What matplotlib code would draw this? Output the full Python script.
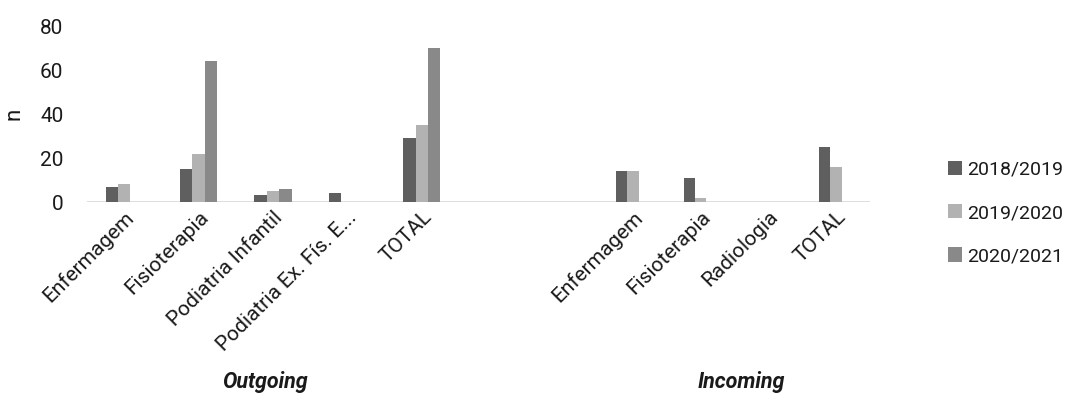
import matplotlib
matplotlib.use("Agg")
import matplotlib.pyplot as plt
import numpy as np

plt.rcParams['font.family'] = ['Roboto', 'DejaVu Sans']

# Mobility counts per course and academic year
years = ["2018/2019", "2019/2020", "2020/2021"]
colors = ["#5f5f5f", "#b2b2b2", "#898989"]

outgoing_courses = ["Enfermagem", "Fisioterapia", "Podiatria Infantil",
                    "Podiatria Ex. Fís. E...", "TOTAL"]
outgoing_2018 = [7, 15, 3, 4, 29]
outgoing_2019 = [8, 22, 5, 0, 35]
outgoing_2020 = [0, 64, 6, 0, 70]

incoming_courses = ["Enfermagem", "Fisioterapia", "Radiologia", "TOTAL"]
incoming_2018 = [14, 11, 0, 25]
incoming_2019 = [14, 2, 0, 16]
incoming_2020 = [0, 0, 0, 0]

yticks = [0, 20, 40, 60, 80]

W, H = 1073, 396
fig = plt.figure(figsize=(W / 100, H / 100), dpi=100)

bottom = (H - 202) / H
top = (H - 26) / H
ax_h = top - bottom

left_px, right_px = 87, 870
out_end_px, in_start_px = 459, 599


def draw_group(ax, courses, series, label_pad):
    x = np.arange(len(courses))
    bw = 1 / 6
    for i, (vals, c, lab) in enumerate(zip(series, colors, years)):
        ax.bar(x + (i - 1) * bw, vals, width=bw, color=c, label=lab,
               linewidth=0, zorder=3)
    ax.set_xlim(-0.5, len(courses) - 0.5)
    ax.set_ylim(0, 80)
    ax.set_xticks(x)
    ax.set_xticklabels(courses, rotation=45, ha="right",
                       rotation_mode="anchor", fontsize=15, color="#1a1a1a")
    ax.tick_params(axis="x", length=0, pad=label_pad)
    for s in ax.spines.values():
        s.set_visible(False)
    ax.patch.set_alpha(0)


# Continuous baseline under both groups
base = fig.add_axes([left_px / W, bottom, (right_px - left_px) / W, ax_h])
base.set_xlim(0, 1)
base.set_ylim(0, 80)
base.axhline(0, color="#d9d9d9", linewidth=2, zorder=1)
base.set_yticks(yticks)
base.set_yticklabels([str(v) for v in yticks], fontsize=15, color="#1a1a1a")
base.tick_params(axis="y", length=0, pad=17)
base.set_xticks([])
for s in base.spines.values():
    s.set_visible(False)
base.set_ylabel("n", fontsize=16, color="#1a1a1a", labelpad=11)

ax1 = fig.add_axes([left_px / W, bottom, (out_end_px - left_px) / W, ax_h])
draw_group(ax1, outgoing_courses,
           [outgoing_2018, outgoing_2019, outgoing_2020], 4)
ax1.set_yticks([])

ax2 = fig.add_axes([in_start_px / W, bottom, (right_px - in_start_px) / W, ax_h])
draw_group(ax2, incoming_courses,
           [incoming_2018, incoming_2019, incoming_2020], 4)
ax2.set_yticks([])

fig.text(265 / W, 1 - 382 / H, "Outgoing", ha="center", va="center",
         fontsize=15.5, fontstyle="italic", fontweight="bold", color="#1a1a1a")
fig.text(741 / W, 1 - 382 / H, "Incoming", ha="center", va="center",
         fontsize=15.5, fontstyle="italic", fontweight="bold", color="#1a1a1a")

handles, labels = ax1.get_legend_handles_labels()
fig.legend(handles, labels, loc="center left",
           bbox_to_anchor=(930 / W, 1 - 213 / H), frameon=False,
           fontsize=14, handlelength=0.75, handleheight=0.75,
           handletextpad=0.25, labelspacing=1.3, labelcolor="#1a1a1a")

fig.savefig("out.png", dpi=100)
